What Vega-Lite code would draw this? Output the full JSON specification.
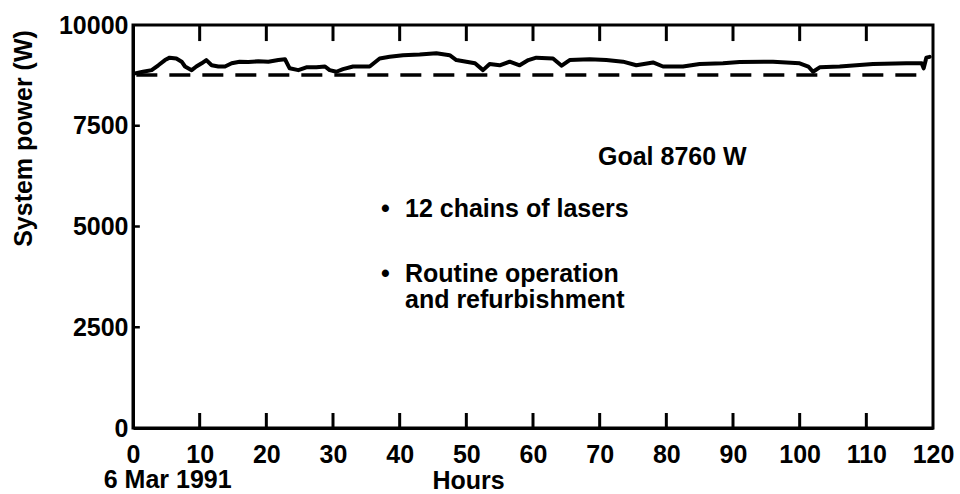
{
  "$schema": "https://vega.github.io/schema/vega-lite/v6.json",
  "width": 800,
  "height": 403,
  "autosize": "none",
  "padding": {"left": 133, "top": 25, "right": 27, "bottom": 66},
  "background": "white",
  "config": {
    "view": {"stroke": "black", "strokeWidth": 3},
    "font": "Liberation Sans",
    "axis": {
      "labelFont": "Liberation Sans",
      "labelFontWeight": "bold",
      "labelFontSize": 25,
      "labelColor": "black",
      "titleFont": "Liberation Sans",
      "titleFontWeight": "bold",
      "titleFontSize": 25,
      "titleColor": "black",
      "domainColor": "black",
      "domainWidth": 3,
      "grid": false
    },
    "text": {"font": "Liberation Sans", "fontWeight": "bold", "fontSize": 25, "color": "black"}
  },
  "datasets": {
    "power": [
      {"hour": 0.3, "watts": 8800},
      {"hour": 1.5, "watts": 8840},
      {"hour": 2.8, "watts": 8880},
      {"hour": 3.8, "watts": 9000},
      {"hour": 4.8, "watts": 9130},
      {"hour": 5.5, "watts": 9190},
      {"hour": 6.5, "watts": 9170},
      {"hour": 7.3, "watts": 9090},
      {"hour": 7.8, "watts": 8970},
      {"hour": 8.8, "watts": 8880},
      {"hour": 9.5, "watts": 8970},
      {"hour": 10.3, "watts": 9050},
      {"hour": 11, "watts": 9130},
      {"hour": 11.8, "watts": 9000},
      {"hour": 12.8, "watts": 8970},
      {"hour": 13.8, "watts": 8970},
      {"hour": 14.8, "watts": 9050},
      {"hour": 16, "watts": 9090},
      {"hour": 17.3, "watts": 9080},
      {"hour": 18.8, "watts": 9100},
      {"hour": 20.3, "watts": 9090},
      {"hour": 21.8, "watts": 9130},
      {"hour": 22.8, "watts": 9150},
      {"hour": 23.5, "watts": 8925},
      {"hour": 24.8, "watts": 8880},
      {"hour": 26, "watts": 8950},
      {"hour": 27.5, "watts": 8950},
      {"hour": 28.8, "watts": 8970},
      {"hour": 29.5, "watts": 8880},
      {"hour": 30.5, "watts": 8840},
      {"hour": 31.5, "watts": 8905},
      {"hour": 33, "watts": 8970},
      {"hour": 35.5, "watts": 8970},
      {"hour": 37, "watts": 9170},
      {"hour": 38.5, "watts": 9210},
      {"hour": 40.5, "watts": 9250},
      {"hour": 43, "watts": 9270},
      {"hour": 45.5, "watts": 9300},
      {"hour": 47.5, "watts": 9250},
      {"hour": 48.5, "watts": 9130},
      {"hour": 50, "watts": 9090},
      {"hour": 51.3, "watts": 9050},
      {"hour": 52.5, "watts": 8880},
      {"hour": 53.5, "watts": 9030},
      {"hour": 55, "watts": 9000},
      {"hour": 56.5, "watts": 9090},
      {"hour": 58, "watts": 9000},
      {"hour": 59.3, "watts": 9130},
      {"hour": 60.5, "watts": 9190},
      {"hour": 63, "watts": 9170},
      {"hour": 64.3, "watts": 8990},
      {"hour": 65.5, "watts": 9130},
      {"hour": 68.5, "watts": 9150},
      {"hour": 71, "watts": 9130},
      {"hour": 73.5, "watts": 9090},
      {"hour": 75.5, "watts": 9000},
      {"hour": 78, "watts": 9070},
      {"hour": 79.5, "watts": 8970},
      {"hour": 82.5, "watts": 8970},
      {"hour": 85, "watts": 9030},
      {"hour": 88.5, "watts": 9050},
      {"hour": 91, "watts": 9080},
      {"hour": 96, "watts": 9090},
      {"hour": 100, "watts": 9050},
      {"hour": 101.3, "watts": 8970},
      {"hour": 102, "watts": 8840},
      {"hour": 103, "watts": 8950},
      {"hour": 106, "watts": 8970},
      {"hour": 111, "watts": 9030},
      {"hour": 116, "watts": 9050},
      {"hour": 118.3, "watts": 9050},
      {"hour": 118.6, "watts": 8925},
      {"hour": 119, "watts": 9190},
      {"hour": 119.5, "watts": 9210}
    ],
    "xticks": [
      {"hour": 10}, {"hour": 20}, {"hour": 30}, {"hour": 40}, {"hour": 50}, {"hour": 60},
      {"hour": 70}, {"hour": 80}, {"hour": 90}, {"hour": 100}, {"hour": 110}
    ],
    "yticks": [{"watts": 2500}, {"watts": 5000}, {"watts": 7500}],
    "one": [{}]
  },
  "layer": [
    {
      "data": {"name": "power"},
      "mark": {"type": "line", "color": "black", "strokeWidth": 4, "strokeJoin": "round", "strokeCap": "round"},
      "encoding": {
        "x": {
          "field": "hour", "type": "quantitative",
          "scale": {"domain": [0, 120], "nice": false, "zero": false},
          "axis": {
            "orient": "bottom",
            "values": [0, 10, 20, 30, 40, 50, 60, 70, 80, 90, 100, 110, 120],
            "format": "d",
            "ticks": false,
            "labelPadding": 14,
            "labelFlush": false,
            "title": "Hours",
            "titleX": 335,
            "titleY": 52,
            "titleBaseline": "middle",
            "titleAlign": "center"
          }
        },
        "y": {
          "field": "watts", "type": "quantitative",
          "scale": {"domain": [0, 10000], "nice": false, "zero": false},
          "axis": {
            "orient": "left",
            "values": [0, 2500, 5000, 7500, 10000],
            "format": "d",
            "ticks": false,
            "labelPadding": 5,
            "labelFlush": false,
            "title": "System power (W)",
            "titleX": -110,
            "titleY": 113,
            "titleAngle": -90,
            "titleBaseline": "middle",
            "titleAlign": "center"
          }
        }
      }
    },
    {
      "data": {"name": "xticks"},
      "mark": {"type": "tick", "orient": "vertical", "color": "black", "size": 15, "thickness": 3, "opacity": 1},
      "encoding": {
        "x": {"field": "hour", "type": "quantitative"},
        "y": {"datum": 186, "type": "quantitative"}
      }
    },
    {
      "data": {"name": "xticks"},
      "mark": {"type": "tick", "orient": "vertical", "color": "black", "size": 16, "thickness": 3, "opacity": 1},
      "encoding": {
        "x": {"field": "hour", "type": "quantitative"},
        "y": {"datum": 9800, "type": "quantitative"}
      }
    },
    {
      "data": {"name": "yticks"},
      "mark": {"type": "tick", "orient": "horizontal", "color": "black", "size": 7, "thickness": 2.5, "opacity": 1},
      "encoding": {
        "x": {"datum": 0.5, "type": "quantitative"},
        "y": {"field": "watts", "type": "quantitative"}
      }
    },
    {
      "data": {"name": "one"},
      "mark": {"type": "rule", "color": "black", "strokeWidth": 3.5, "strokeDash": [21, 12]},
      "encoding": {
        "x": {"datum": 0.5, "type": "quantitative"},
        "x2": {"datum": 119},
        "y": {"datum": 8760, "type": "quantitative"}
      }
    },
    {
      "data": {"name": "one"},
      "mark": {"type": "text", "align": "left", "baseline": "middle"},
      "encoding": {
        "x": {"datum": 69.75, "type": "quantitative"},
        "y": {"datum": 6736, "type": "quantitative"},
        "text": {"value": "Goal 8760 W"}
      }
    },
    {
      "data": {"name": "one"},
      "mark": {"type": "text", "align": "left", "baseline": "middle"},
      "encoding": {
        "x": {"datum": 37.2, "type": "quantitative"},
        "y": {"datum": 5446, "type": "quantitative"},
        "text": {"value": "•"}
      }
    },
    {
      "data": {"name": "one"},
      "mark": {"type": "text", "align": "left", "baseline": "middle"},
      "encoding": {
        "x": {"datum": 40.8, "type": "quantitative"},
        "y": {"datum": 5446, "type": "quantitative"},
        "text": {"value": "12 chains of lasers"}
      }
    },
    {
      "data": {"name": "one"},
      "mark": {"type": "text", "align": "left", "baseline": "middle"},
      "encoding": {
        "x": {"datum": 37.2, "type": "quantitative"},
        "y": {"datum": 3833, "type": "quantitative"},
        "text": {"value": "•"}
      }
    },
    {
      "data": {"name": "one"},
      "mark": {"type": "text", "align": "left", "baseline": "middle"},
      "encoding": {
        "x": {"datum": 40.8, "type": "quantitative"},
        "y": {"datum": 3833, "type": "quantitative"},
        "text": {"value": "Routine operation"}
      }
    },
    {
      "data": {"name": "one"},
      "mark": {"type": "text", "align": "left", "baseline": "middle"},
      "encoding": {
        "x": {"datum": 40.8, "type": "quantitative"},
        "y": {"datum": 3176, "type": "quantitative"},
        "text": {"value": "and refurbishment"}
      }
    },
    {
      "data": {"name": "one"},
      "mark": {"type": "text", "align": "center", "baseline": "middle"},
      "encoding": {
        "x": {"datum": 5.2, "type": "quantitative"},
        "y": {"datum": -1290, "type": "quantitative"},
        "text": {"value": "6 Mar 1991"}
      }
    }
  ]
}
